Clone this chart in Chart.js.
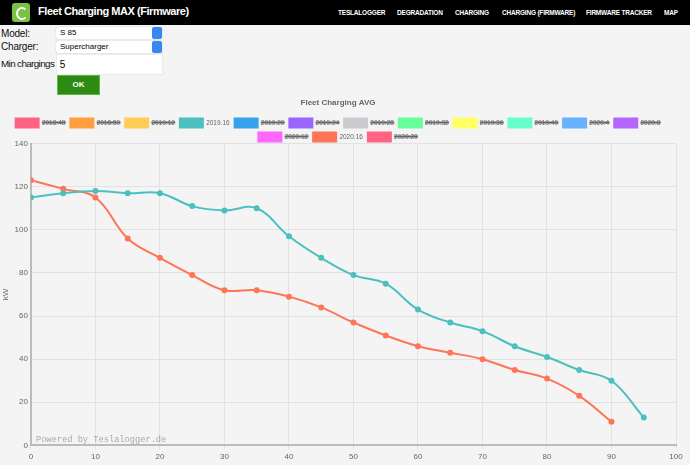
<!DOCTYPE html>
<html>
<head>
<meta charset="utf-8">
<script src="https://cdn.jsdelivr.net/npm/chart.js@4/dist/chart.umd.min.js"></script>
<style>
  html, body { margin:0; padding:0; width:690px; height:465px; overflow:hidden; background:#f4f4f4; font-family:"Liberation Sans", Arial, sans-serif; }
  #hdr { position:absolute; left:0; top:0; width:690px; height:25px; background:#000; }
  #logo { position:absolute; left:12px; top:3px; width:18px; height:19px; background:#7cc242; border-radius:3px; }
  #logo:after { content:""; position:absolute; left:4px; top:4px; width:8px; height:9px; border:2px solid #fff; border-radius:50%; border-right-color:transparent; }
  #title { position:absolute; left:38px; top:5px; color:#fff; font-weight:bold; font-size:11px; letter-spacing:-0.45px; }
  .nav { position:absolute; top:9px; color:#fff; font-weight:bold; font-size:6.5px; letter-spacing:-0.2px; }
  .lbl { position:absolute; left:1px; font-size:10px; color:#111; letter-spacing:-0.2px; white-space:nowrap; }
  .sel { position:absolute; left:56px; width:106px; height:12px; background:#fff; border-radius:2px; box-shadow:0 0 1px #888; font-size:8px; line-height:12px; }
  .sel span { position:absolute; left:4px; }
  .sel i { position:absolute; right:0; top:0; width:10px; height:12px; background:#3a86f0; border-radius:2px; }
  #inp { position:absolute; left:56px; top:54px; width:105px; height:19px; background:#fff; border:1px solid #ebebeb; font-size:10px; line-height:19px; }
  #ok { position:absolute; left:57px; top:75px; width:41px; height:18px; background:#2e8b12; border:1px solid #5cb84a; color:#fff; font-weight:bold; font-size:8px; line-height:18px; text-align:center; }
  #wrap { position:absolute; left:0; top:95px; width:690px; height:370px; }
</style>
</head>
<body>
<div id="hdr">
  <div id="logo"></div>
  <div id="title">Fleet Charging MAX (Firmware)</div>
  <div class="nav" style="left:338px">TESLALOGGER</div>
  <div class="nav" style="left:397px">DEGRADATION</div>
  <div class="nav" style="left:455px">CHARGING</div>
  <div class="nav" style="left:502px">CHARGING (FIRMWARE)</div>
  <div class="nav" style="left:586px">FIRMWARE TRACKER</div>
  <div class="nav" style="left:664px">MAP</div>
</div>
<div class="lbl" style="top:28px">Model:</div>
<div class="sel" style="top:27px"><span>S 85</span><i></i></div>
<div class="lbl" style="top:41px">Charger:</div>
<div class="sel" style="top:41px"><span>Supercharger</span><i></i></div>
<div class="lbl" style="top:58px; letter-spacing:-0.6px; font-size:9.8px">Min chargings</div>
<div id="inp">&nbsp;5</div>
<div id="ok">OK</div>
<div id="wrap"><canvas id="c"></canvas></div>
<script>
// Data
const socLevels = [0,5,10,15,20,25,30,35,40,45,50,55,60,65,70,75,80,85,90,95];
const fw_2019_16 = [115,117,118,117,117,111,109,110,97,87,79,75,63,57,53,46,41,35,30,13];
const socLevels2020 = [0,5,10,15,20,25,30,35,40,45,50,55,60,65,70,75,80,85,90];
const fw_2020_16 = [123,119,115,96,87,79,72,72,69,64,57,51,46,43,40,35,31,23,11];
const firmwareLabels = ["2018.48","2018.50","2019.12","2019.16","2019.20","2019.24","2019.28","2019.32","2019.36","2019.40","2020.4","2020.8","2020.12","2020.16","2020.20"];
const firmwareColors = ["rgb(255,99,132)","rgb(255,159,64)","rgb(255,205,86)","rgb(75,192,192)","rgb(54,162,235)","rgb(153,102,255)","rgb(201,203,207)","rgb(102,255,153)","rgb(255,255,102)","rgb(102,255,204)","rgb(102,178,255)","rgb(178,102,255)","rgb(255,102,255)","rgb(255,117,87)","rgb(255,99,132)"];
const visibleFirmware = ["2019.16","2020.16"];
const xTicks = [0,10,20,30,40,50,60,70,80,90,100];
const yTicks = [0,20,40,60,80,100,120,140];

const seriesData = {
  "2019.16": socLevels.map((x,i)=>({x:x, y:fw_2019_16[i]})),
  "2020.16": socLevels2020.map((x,i)=>({x:x, y:fw_2020_16[i]}))
};

const datasets = firmwareLabels.map((lab,i)=>({
  label: lab,
  data: seriesData[lab] || [],
  borderColor: firmwareColors[i],
  backgroundColor: firmwareColors[i],
  borderWidth: 2,
  pointRadius: 2,
  pointHoverRadius: 3,
  fill: false,
  tension: 0.4,
  hidden: !visibleFirmware.includes(lab)
}));

const bgPlugin = {
  id:'bg',
  beforeInit(chart){
    const lg = chart.legend;
    if (lg) { const orig = lg.fit; lg.fit = function(){ orig.call(this); this.height -= 8; }; }
  },
  beforeDraw(chart){ const c=chart.ctx; c.save(); c.fillStyle='#f4f4f4'; c.fillRect(0,0,chart.width,chart.height); c.restore(); },
  afterDraw(chart){
    const c=chart.ctx, a=chart.chartArea;
    c.save(); c.font='8.7px "Liberation Mono", "DejaVu Sans Mono", monospace'; c.fillStyle='rgba(150,150,150,0.8)';
    c.textBaseline='alphabetic'; c.fillText('Powered by Teslalogger.de', a.left+5, a.bottom-3); c.restore();
  }
};

Chart.defaults.font.family = '"Liberation Sans", Arial, sans-serif';
Chart.defaults.color = '#666';
new Chart(document.getElementById('c'), {
  type:'line',
  data:{ datasets },
  plugins:[bgPlugin],
  options:{
    responsive:true, maintainAspectRatio:false, animation:false,
    layout:{ padding:{ left:0, right:14, top:0, bottom:0 } },
    plugins:{
      title:{ display:true, text:'Fleet Charging AVG', font:{size:8, weight:'bold'}, color:'#666', padding:{top:3,bottom:6} },
      legend:{ labels:{ boxWidth:23, boxHeight:9, font:{size:6.5}, padding:5, color:'#666' } },
      tooltip:{ enabled:false }
    },
    scales:{
      x:{ type:'linear', min:0, max:100,
          afterBuildTicks: s => { s.ticks = xTicks.map(v=>({value:v})); },
          ticks:{ font:{size:8}, color:'#666', padding:3 },
          grid:{ color:'#e2e2e2', tickLength:4 },
          border:{ color:'#bbb', width:2 } },
      y:{ min:0, max:140,
          afterBuildTicks: s => { s.ticks = yTicks.map(v=>({value:v})); },
          ticks:{ font:{size:8}, color:'#666', padding:3 },
          grid:{ color:'#e2e2e2', drawTicks:false },
          border:{ color:'#bbb', width:2 },
          title:{ display:true, text:'kW', font:{size:8}, color:'#666', padding:1 } }
    }
  }
});
</script>
</body>
</html>
